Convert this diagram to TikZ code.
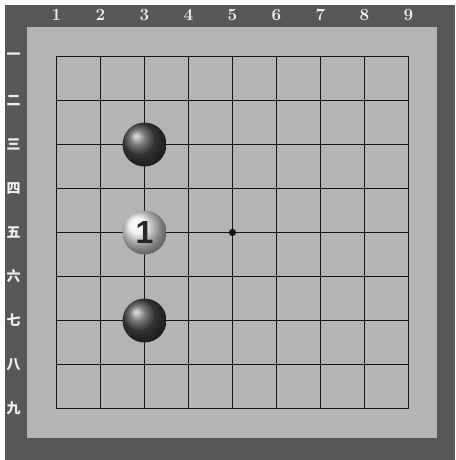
\documentclass[tikz,border=0pt]{standalone}
\usepackage{fontspec}
\newfontfamily\cjk{Noto Sans CJK SC}
\newfontfamily\stonefont{Liberation Sans}
\usepackage{xcolor}
\usepackage{tikz}
\definecolor{goframe}{HTML}{585858}
\definecolor{goboard}{HTML}{B4B4B4}
\definecolor{goline}{HTML}{151515}
\definecolor{golabel}{HTML}{F0F0F0}

\tikzset{
  blackstone/.style={circle, minimum size=44pt, inner sep=0pt, shading=ball, ball color=black!72},
  whitestone/.style={circle, minimum size=44pt, inner sep=0pt, shading=ball, ball color=white!94!black,
    font=\stonefont\bfseries\fontsize{32}{32}\selectfont, text=black!85},
  collabel/.style={font=\bfseries\fontsize{17}{18}\selectfont, text=golabel},
  rowlabel/.style={font=\cjk\bfseries\fontsize{14}{15}\selectfont, text=golabel},
}

\begin{document}
\begin{tikzpicture}[x=1pt,y=-1pt]
  \useasboundingbox (0,0) rectangle (455,460);
  \fill[white] (0,0) rectangle (455,460);
  \fill[goframe] (5,5) rectangle (455,460);
  \fill[goboard] (27,27) rectangle (437,438);

  % Grid
  \foreach \k in {0,...,8} {
    \draw[goline, line width=1.4pt] (56.5+44*\k,56.5) -- (56.5+44*\k,408.5);
    \draw[goline, line width=1.4pt] (56.5,56.5+44*\k) -- (408.5,56.5+44*\k);
  }
  \fill[goline] (232.5,232.5) circle (3.6);

  % Column numbers
  \foreach \n in {1,...,9}
    \node[collabel] (c\n) at (56.5+44*\n-44,15) {\n};

  % Row numbers
  \foreach \r [count=\n] in {一,二,三,四,五,六,七,八,九}
    \node[rowlabel] (r\n) at (13.5,56.5+44*\n-44) {\r};

  % Stones
  \node[blackstone] (b3) at (144.5,144.5) {};
  \node[whitestone] (w5) at (144.5,232.5) {1};
  \node[blackstone] (b7) at (144.5,320.5) {};
\end{tikzpicture}
\end{document}
